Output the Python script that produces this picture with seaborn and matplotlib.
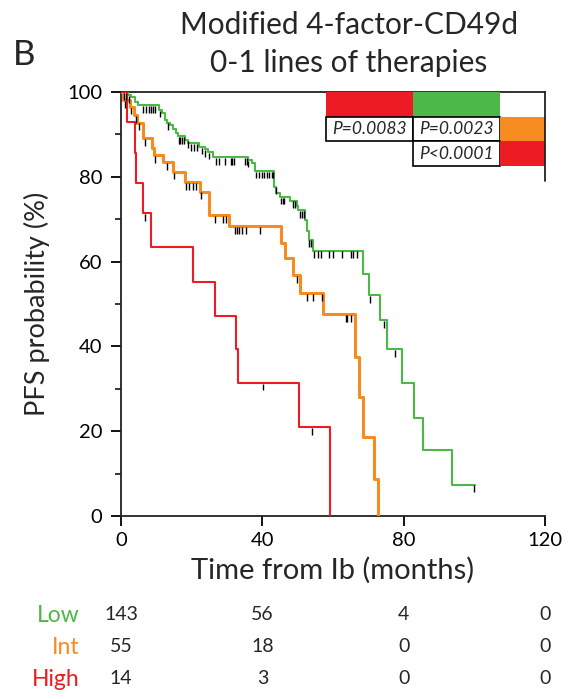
import numpy as np
import pandas as pd
import matplotlib
matplotlib.use('Agg')
import matplotlib.pyplot as plt
import matplotlib.transforms as mtransforms
from matplotlib.patches import Rectangle
import seaborn as sns

# ──────────────────────────────────────────────
# DATA
# ──────────────────────────────────────────────
groups = ['Low', 'Int', 'High']
colors = {'Low': '#4cb847', 'Int': '#f68b1f', 'High': '#ed1c24'}

low_t = [0, 2.0, 2.7, 4.0, 4.9, 10.8, 11.5, 12.5, 13.1, 13.9, 14.8, 15.5, 16.2, 18.1,
         19.0, 22.1, 23.8, 24.7, 26.1, 36.0, 37.0, 37.9, 43.3, 44.0, 45.0, 47.8, 49.7,
         50.2, 52.0, 52.6, 53.2, 54.4, 68.4, 70.3, 73.3, 75.4, 79.4, 82.9, 85.6, 93.8, 100.2]
low_p = [100, 99.3, 98.9, 97.7, 96.9, 95.8, 95.0, 93.4, 92.8, 92.2, 91.2, 90.4, 89.6, 88.7,
         87.9, 87.1, 86.5, 85.9, 84.7, 84.0, 83.3, 81.4, 77.7, 76.1, 75.3, 74.4, 73.1,
         72.2, 69.8, 67.2, 65.2, 62.6, 57.1, 52.1, 46.2, 39.4, 31.4, 23.2, 15.6, 7.4, 7.4]

int_t = [0, 0.5, 2.5, 3.7, 4.6, 6.3, 8.7, 9.4, 11.9, 14.8, 18.1, 22.4, 24.9, 30.6, 45.2,
         46.4, 48.6, 50.7, 57.3, 66.2, 67.4, 68.4, 71.6, 72.6]
int_p = [100, 98.1, 96.5, 94.6, 92.8, 89.1, 86.7, 85.1, 83.4, 81.2, 78.8, 76.5, 71.0, 68.4,
         64.3, 60.8, 56.8, 52.5, 47.6, 37.6, 28.1, 18.7, 8.8, 0]

high_t = [0, 1.6, 4.0, 4.2, 6.1, 8.4, 20.3, 26.6, 32.5, 33.2, 50.5, 59.2]
high_p = [100, 92.9, 85.7, 78.6, 71.4, 63.5, 55.3, 47.2, 39.4, 31.4, 20.9, 0]

# censored observations (months)
low_cens = [0.85, 1.5, 2.3, 6.3, 7.1, 8.0, 8.5, 9.0, 9.6, 11.0, 13.4, 16.3, 16.8, 17.3,
            17.9, 18.9, 19.7, 20.7, 21.4, 22.8, 23.8, 25.0, 26.9, 27.8, 29.4, 31.0, 31.5,
            32.0, 35.1, 35.6, 36.0, 38.2, 39.1, 39.8, 40.5, 41.2, 42.0, 42.7, 43.1, 43.8,
            45.2, 45.8, 46.1, 48.8, 49.3, 50.7, 51.1, 51.8, 53.3, 53.8, 54.7, 55.7, 56.6,
            59.0, 59.9, 62.5, 65.0, 65.6, 66.9, 70.5, 74.5, 77.5, 100.0]
int_cens = [1.2, 2.7, 4.2, 5.2, 6.8, 9.6, 13.1, 15.0, 18.3, 19.3, 20.3, 21.2, 22.6, 26.6,
            29.0, 29.7, 32.3, 32.8, 33.5, 34.2, 35.4, 39.3, 49.7, 52.5, 54.2, 57.0, 63.7,
            63.9, 65.1]
high_cens = [6.8, 40.1, 54.0]

curves = {'Low': (low_t, low_p, low_cens),
          'Int': (int_t, int_p, int_cens),
          'High': (high_t, high_p, high_cens)}
line_widths = {'Low': 1.5, 'Int': 2.2, 'High': 1.5}

# numbers at risk at 0, 40, 80, 120 months
risk_times = [0, 40, 80, 120]
risk_low = [143, 56, 4, 0]
risk_int = [55, 18, 0, 0]
risk_high = [14, 3, 0, 0]

# pairwise log-rank p-values
p_texts = [['', '', ''],
           ['P=0.0083', 'P=0.0023', ''],
           ['', 'P<0.0001', '']]
p_fills = [['High', 'Low', None],
           [None, None, 'Int'],
           [None, None, 'High']]

# ──────────────────────────────────────────────
# PLOT
# ──────────────────────────────────────────────
sns.set_theme(style='ticks')
plt.rcParams['font.family'] = ['Lato', 'DejaVu Sans']

fig = plt.figure(figsize=(5.72, 6.99), dpi=100)
ax = fig.add_axes([121 / 572, 1 - 516 / 699, 424 / 572, 424 / 699])

for g in groups:
    t, p, cens = curves[g]
    df = pd.DataFrame({'time': t, 'pfs': p})
    sns.lineplot(data=df, x='time', y='pfs', color=colors[g], lw=line_widths[g],
                 drawstyle='steps-post', estimator=None, sort=False, ax=ax, zorder=3)
    # censor ticks just under the curve
    idx = np.searchsorted(np.array(t), np.array(cens), side='right') - 1
    lvl = np.array(p)[idx]
    ax.vlines(cens, lvl - 1.8, lvl - 0.2, color='black', lw=1.0, zorder=4)

ax.set_xlim(0, 120)
ax.set_ylim(0, 100)
ax.set_xticks(risk_times)
ax.set_yticks(range(0, 101, 20))
ax.set_yticks(range(10, 100, 20), minor=True)
ax.tick_params(axis='both', which='major', direction='out', length=7.5, width=1.3,
               labelsize=14.5, colors='black')
ax.tick_params(axis='y', which='major', pad=6)
ax.tick_params(axis='x', which='major', pad=4)
ax.tick_params(axis='y', which='minor', direction='out', length=4, width=1.3)
for s in ['left', 'bottom', 'top']:
    ax.spines[s].set_linewidth(1.3)
    ax.spines[s].set_color('#222222')
ax.spines['right'].set_visible(False)
ax.set_xlabel('Time from Ib (months)', fontsize=21, labelpad=6)
ax.set_ylabel('PFS probability (%)', fontsize=19.5, labelpad=12)

# p-value table in the upper right corner
tab_x = [58, 82.6, 107.3, 120]
tab_y = [100, 94.2, 88.4, 82.5]
for r in range(3):
    for c in range(3):
        x0, w = tab_x[c], tab_x[c + 1] - tab_x[c]
        y0, h = tab_y[r + 1], tab_y[r] - tab_y[r + 1]
        if p_fills[r][c]:
            ax.add_patch(Rectangle((x0, y0), w, h, facecolor=colors[p_fills[r][c]],
                                   edgecolor='none', zorder=5, clip_on=False))
        if p_texts[r][c]:
            ax.add_patch(Rectangle((x0, y0), w, h, facecolor='white',
                                   edgecolor='black', lw=1.2, zorder=5, clip_on=False))
            ax.text(x0 + w / 2, y0 + h / 2, p_texts[r][c], ha='center', va='center',
                    fontsize=12.5, style='italic', zorder=6)
ax.plot([120, 120], [79, 100], color='#222222', lw=1.3, clip_on=False, zorder=5)

# titles
fig.text(24 / 572, 1 - 55 / 699, 'B', fontsize=25, ha='center', va='center')
fig.text(349 / 572, 1 - 25 / 699, 'Modified 4-factor-CD49d', fontsize=21.5,
         ha='center', va='center')
fig.text(349 / 572, 1 - 63 / 699, '0-1 lines of therapies', fontsize=21.5,
         ha='center', va='center')

# numbers at risk, aligned with the x ticks
risk_tf = mtransforms.blended_transform_factory(ax.transData, fig.transFigure)
risk_rows = {'Low': (615, risk_low), 'Int': (647, risk_int), 'High': (679, risk_high)}
for g in groups:
    y, vals = risk_rows[g]
    yf = 1 - y / 699
    fig.text(80 / 572, yf, g, color=colors[g], fontsize=16.5, ha='right', va='center')
    for tx, v in zip(risk_times, vals):
        ax.text(tx, yf, str(v), fontsize=14, ha='center', va='center',
                transform=risk_tf)

fig.savefig('out.png', dpi=100)
